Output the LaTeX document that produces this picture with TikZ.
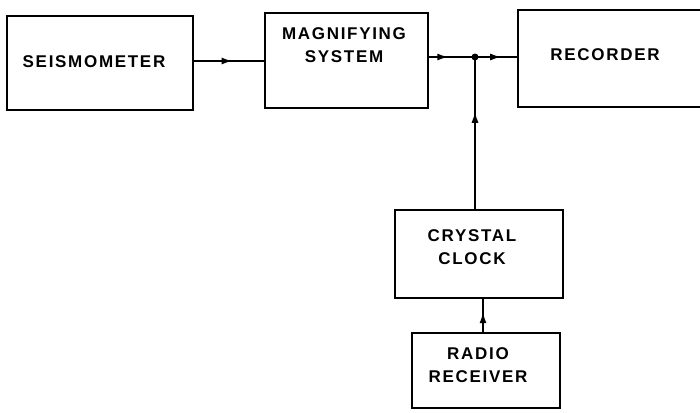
\documentclass[tikz,border=0pt]{standalone}
\usepackage{fontspec}
\setmainfont{Liberation Sans}[LetterSpace=10]
\usepackage{tikz}
\usetikzlibrary{arrows.meta,positioning,calc,decorations.markings}

\tikzset{
  blok/.style={draw,line width=1.8pt,minimum width=#1,inner sep=0pt},
  lbl/.style={align=center,font=\bfseries\fontsize{17}{23}\selectfont},
  wire/.style={line width=1.5pt},
  midarrow/.style={postaction={decorate},decoration={markings,
      mark=at position #1 with {\arrow{Latex[length=11pt,width=7pt]}}}},
}

\begin{document}
\begin{tikzpicture}[x=1pt,y=-1pt]
  \clip (0,0) rectangle (700,412);
  \useasboundingbox (0,0) rectangle (700,412);
  % blocks
  \node[blok=186pt,minimum height=94pt] (seis) at (100,63) {};
  \node[blok=163pt,minimum height=95pt] (mag) at (346.5,60.5) {};
  \node[blok=200pt,minimum height=97pt] (rec) at (618,58.5) {};
  \node[blok=168pt,minimum height=88pt] (clock) at (479,254) {};
  \node[blok=148pt,minimum height=75pt] (radio) at (486,370.5) {};
  % texts
  \node[lbl] (seist) at (94,62) {SEISMOMETER};
  \node[lbl] (magt) at (344,45) {MAGNIFYING\\SYSTEM};
  \node[lbl] (rect) at (605,55) {RECORDER};
  \node[lbl] (clockt) at (472,247.5) {CRYSTAL\\CLOCK};
  \node[lbl] (radiot) at (478,365) {RADIO\\RECEIVER};
  % junction
  \fill (475,57) circle (3.5pt) coordinate (jn);
  % connectors
  \draw[wire,midarrow=0.55] (seis.east |- 0,61) -- (mag.west |- 0,61);
  \draw[wire,midarrow=0.42] (mag.east |- jn) -- (jn);
  \draw[wire,midarrow=0.62] (jn) -- (rec.west |- jn);
  \draw[wire,midarrow=0.64] (jn |- clock.north) -- (jn);
  \draw[wire,midarrow=0.6] (radio.north -| 483,0) -- (clock.south -| 483,0);
\end{tikzpicture}
\end{document}
